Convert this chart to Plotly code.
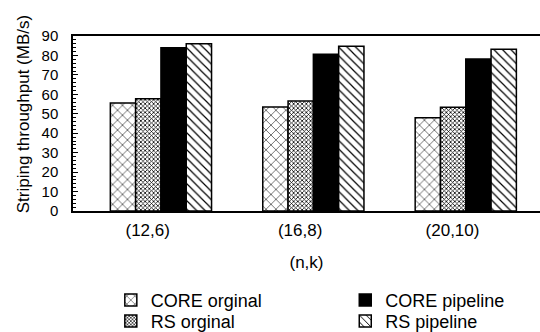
import plotly.graph_objects as go

categories = ["(12,6)", "(16,8)", "(20,10)"]
series_names = ["CORE orginal", "RS orginal", "CORE pipeline", "RS pipeline"]
core_orginal = [55.5, 53.5, 48.0]
rs_orginal = [57.7, 56.6, 53.4]
core_pipeline = [84.0, 80.6, 78.2]
rs_pipeline = [86.0, 84.7, 83.2]
y_ticks = [0, 10, 20, 30, 40, 50, 60, 70, 80, 90]

FONT = "Liberation Sans, Arial, Helvetica, sans-serif"

values = [core_orginal, rs_orginal, core_pipeline, rs_pipeline]
patterns = [
    dict(shape="x", size=7, solidity=0.15, fgcolor="black", bgcolor="white", fillmode="replace"),
    dict(shape="x", size=3, solidity=0.45, fgcolor="black", bgcolor="white", fillmode="replace"),
    None,
    dict(shape="\\", size=6, solidity=0.2, fgcolor="black", bgcolor="white", fillmode="replace"),
]
colors = ["white", "white", "black", "white"]
legend_ids = ["legend", "legend2", "legend3", "legend4"]
legend_pos = [(0.081, -0.405), (0.081, -0.525), (0.583, -0.405), (0.583, -0.525)]
bar_w = 0.166
start = -0.245

fig = go.Figure()
for i in range(4):
    mk = dict(color=colors[i], line=dict(color="black", width=1.5))
    if patterns[i] is not None:
        mk["pattern"] = patterns[i]
    fig.add_trace(go.Bar(
        x=categories, y=values[i], name=series_names[i],
        width=bar_w, offset=start + i * bar_w, marker=mk,
        legend=legend_ids[i],
    ))

leg_common = dict(
    orientation="v", yanchor="top", xanchor="left",
    font=dict(size=18, family=FONT, color="black"),
    itemclick=False, bgcolor="rgba(0,0,0,0)", tracegroupgap=0,
)
legends = {}
for lid, (lx, ly) in zip(legend_ids, legend_pos):
    legends[lid] = dict(x=lx, y=ly, **leg_common)

fig.update_layout(
    width=540, height=332,
    margin=dict(l=73, r=0, t=36, b=121, autoexpand=False),
    barmode="overlay",
    plot_bgcolor="white", paper_bgcolor="white",
    font=dict(family=FONT, size=17, color="black"),
    showlegend=True,
    annotations=[dict(
        text="Striping throughput (MB/s)", textangle=-90,
        xref="paper", yref="paper", x=-0.107, y=0.553,
        xanchor="center", yanchor="middle", showarrow=False,
        font=dict(size=17, family=FONT, color="black"),
    )],
    **legends,
)
fig.update_xaxes(
    type="category", range=[-0.49, 2.574], automargin=False,
    showline=True, linecolor="black", linewidth=1.5, mirror=True,
    showgrid=False, ticks="", tickfont=dict(size=17), ticklabelstandoff=3,
    title=dict(text="(n,k)", font=dict(size=17), standoff=17),
)
fig.update_yaxes(
    range=[0, 90], tickvals=y_ticks, automargin=False,
    showline=True, linecolor="black", linewidth=1.5,
    showgrid=False, zeroline=False,
    ticks="inside", ticklen=5, tickcolor="black",
    minor=dict(dtick=2, ticks="inside", ticklen=3, tickcolor="black"),
    tickfont=dict(size=15), ticklabelstandoff=10,
)

fig.write_html(
    "out.html",
    config={"displayModeBar": False},
    post_script="document.body.style.margin='0';document.body.style.overflow='hidden';",
)
